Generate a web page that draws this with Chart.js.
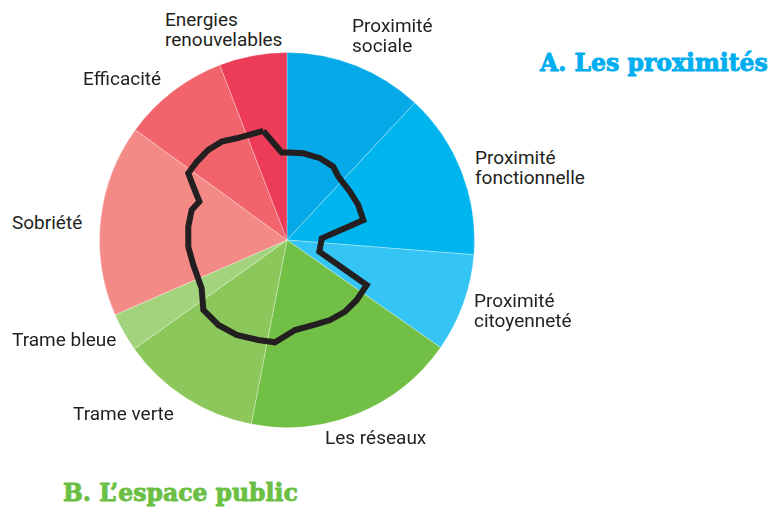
<!DOCTYPE html>
<html lang="fr">
<head>
<meta charset="utf-8">
<title>Proximités et espace public</title>
<script src="https://cdn.jsdelivr.net/npm/chart.js@4.4.1/dist/chart.umd.min.js"></script>
<style>
  html, body { margin: 0; padding: 0; background: #fff; }
  #wrap { position: relative; width: 773px; height: 512px; overflow: hidden; }
  .box { position: absolute; left: 99px; top: 52px; width: 376px; height: 376px; }
  .lbl {
    position: absolute; font-family: Roboto, "Liberation Sans", sans-serif;
    font-size: 19px; line-height: 20px; color: #231f20; white-space: nowrap;
  }
  .ttl {
    position: absolute; font-family: "DejaVu Serif", serif; font-weight: bold;
    font-size: 23.5px; line-height: 23.5px; white-space: nowrap;
    -webkit-text-stroke: 0.9px currentColor;
  }
</style>
</head>
<body>
<div id="wrap">
  <div class="box"><canvas id="pie" width="376" height="376"></canvas></div>
  <div class="box"><canvas id="trace" width="376" height="376"></canvas></div>

  <div class="lbl" style="left:165px; top:10px;">Energies<br>renouvelables</div>
  <div class="lbl" style="left:352px; top:16px;">Proximité<br>sociale</div>
  <div class="lbl" style="left:83px; top:69px;">Efficacité</div>
  <div class="lbl" style="left:475px; top:148px;">Proximité<br>fonctionnelle</div>
  <div class="lbl" style="left:12px; top:213px;">Sobriété</div>
  <div class="lbl" style="left:474px; top:291px;">Proximité<br>citoyenneté</div>
  <div class="lbl" style="left:12px; top:330px;">Trame bleue</div>
  <div class="lbl" style="left:73px; top:404px;">Trame verte</div>
  <div class="lbl" style="left:325px; top:428px;">Les réseaux</div>

  <div class="ttl" style="left:540px; top:52px; color:#00aeef;">A. Les proximités</div>
  <div class="ttl" style="left:63px; top:482px; color:#6cbf45;">B. L’espace public</div>
</div>

<script>
// parts du camembert, en degrés, dans le sens horaire depuis midi
const categories = ['Proximité sociale', 'Proximité fonctionnelle', 'Proximité citoyenneté',
  'Les réseaux', 'Trame verte', 'Trame bleue', 'Sobriété', 'Efficacité', 'Energies renouvelables'];
const shares = [43, 51.5, 30.5, 66, 43.5, 12, 59.5, 33, 21];
const sliceColors = ['#05a9e8', '#00b5ed', '#35c5f4', '#71bf45', '#8cc75c', '#a3d37c',
  '#f38a85', '#f1646c', '#ec3c58'];

// contour noir (repère centré sur le camembert, rayon = 100)
const lineX = [-12.6, -2.8, 0.7, 8.7, 17.6, 24.6, 27.3, 33.5, 37.9, 40.6, 33.5, 18.5, 17.2,
  42.4, 37.1, 30.9, 22.9, 15.8, 4.3, -6.4, -15.3, -26.8, -36.5, -44.5, -45.4, -49.8, -52.5,
  -52.5, -50.7, -46.6, -49.8, -52.5, -48.0, -41.9, -34.7, -26.8, -12.6];
const lineY = [58.0, 46.6, 46.6, 46.1, 43.5, 39.0, 33.7, 25.7, 18.6, 10.6, 7.4, 0.9, -6.2,
  -23.9, -31.9, -38.1, -42.6, -44.7, -47.9, -54.4, -53.2, -50.5, -45.2, -37.2, -25.7, -13.3, -3.6,
  7.1, 16.0, 20.4, 28.4, 35.5, 41.6, 47.9, 52.3, 54.1, 58.0];

new Chart(document.getElementById('pie'), {
  type: 'pie',
  data: {
    labels: categories,
    datasets: [{
      data: shares,
      backgroundColor: sliceColors,
      borderColor: 'rgba(255,255,255,0.3)',
      borderWidth: 1
    }]
  },
  options: {
    responsive: false,
    animation: false,
    layout: { padding: 0 },
    plugins: { legend: { display: false }, tooltip: { enabled: false } }
  }
});

new Chart(document.getElementById('trace'), {
  type: 'scatter',
  data: {
    datasets: [{
      data: lineX.map((x, i) => ({ x: x, y: lineY[i] })),
      showLine: true,
      borderColor: '#231f20',
      borderWidth: 6,
      borderJoinStyle: 'miter',
      pointRadius: 0,
      tension: 0,
      clip: false
    }]
  },
  options: {
    responsive: false,
    animation: false,
    layout: { padding: 0 },
    scales: {
      x: { display: false, min: -100, max: 100 },
      y: { display: false, min: -100, max: 100 }
    },
    plugins: { legend: { display: false }, tooltip: { enabled: false } }
  }
});
</script>
</body>
</html>
